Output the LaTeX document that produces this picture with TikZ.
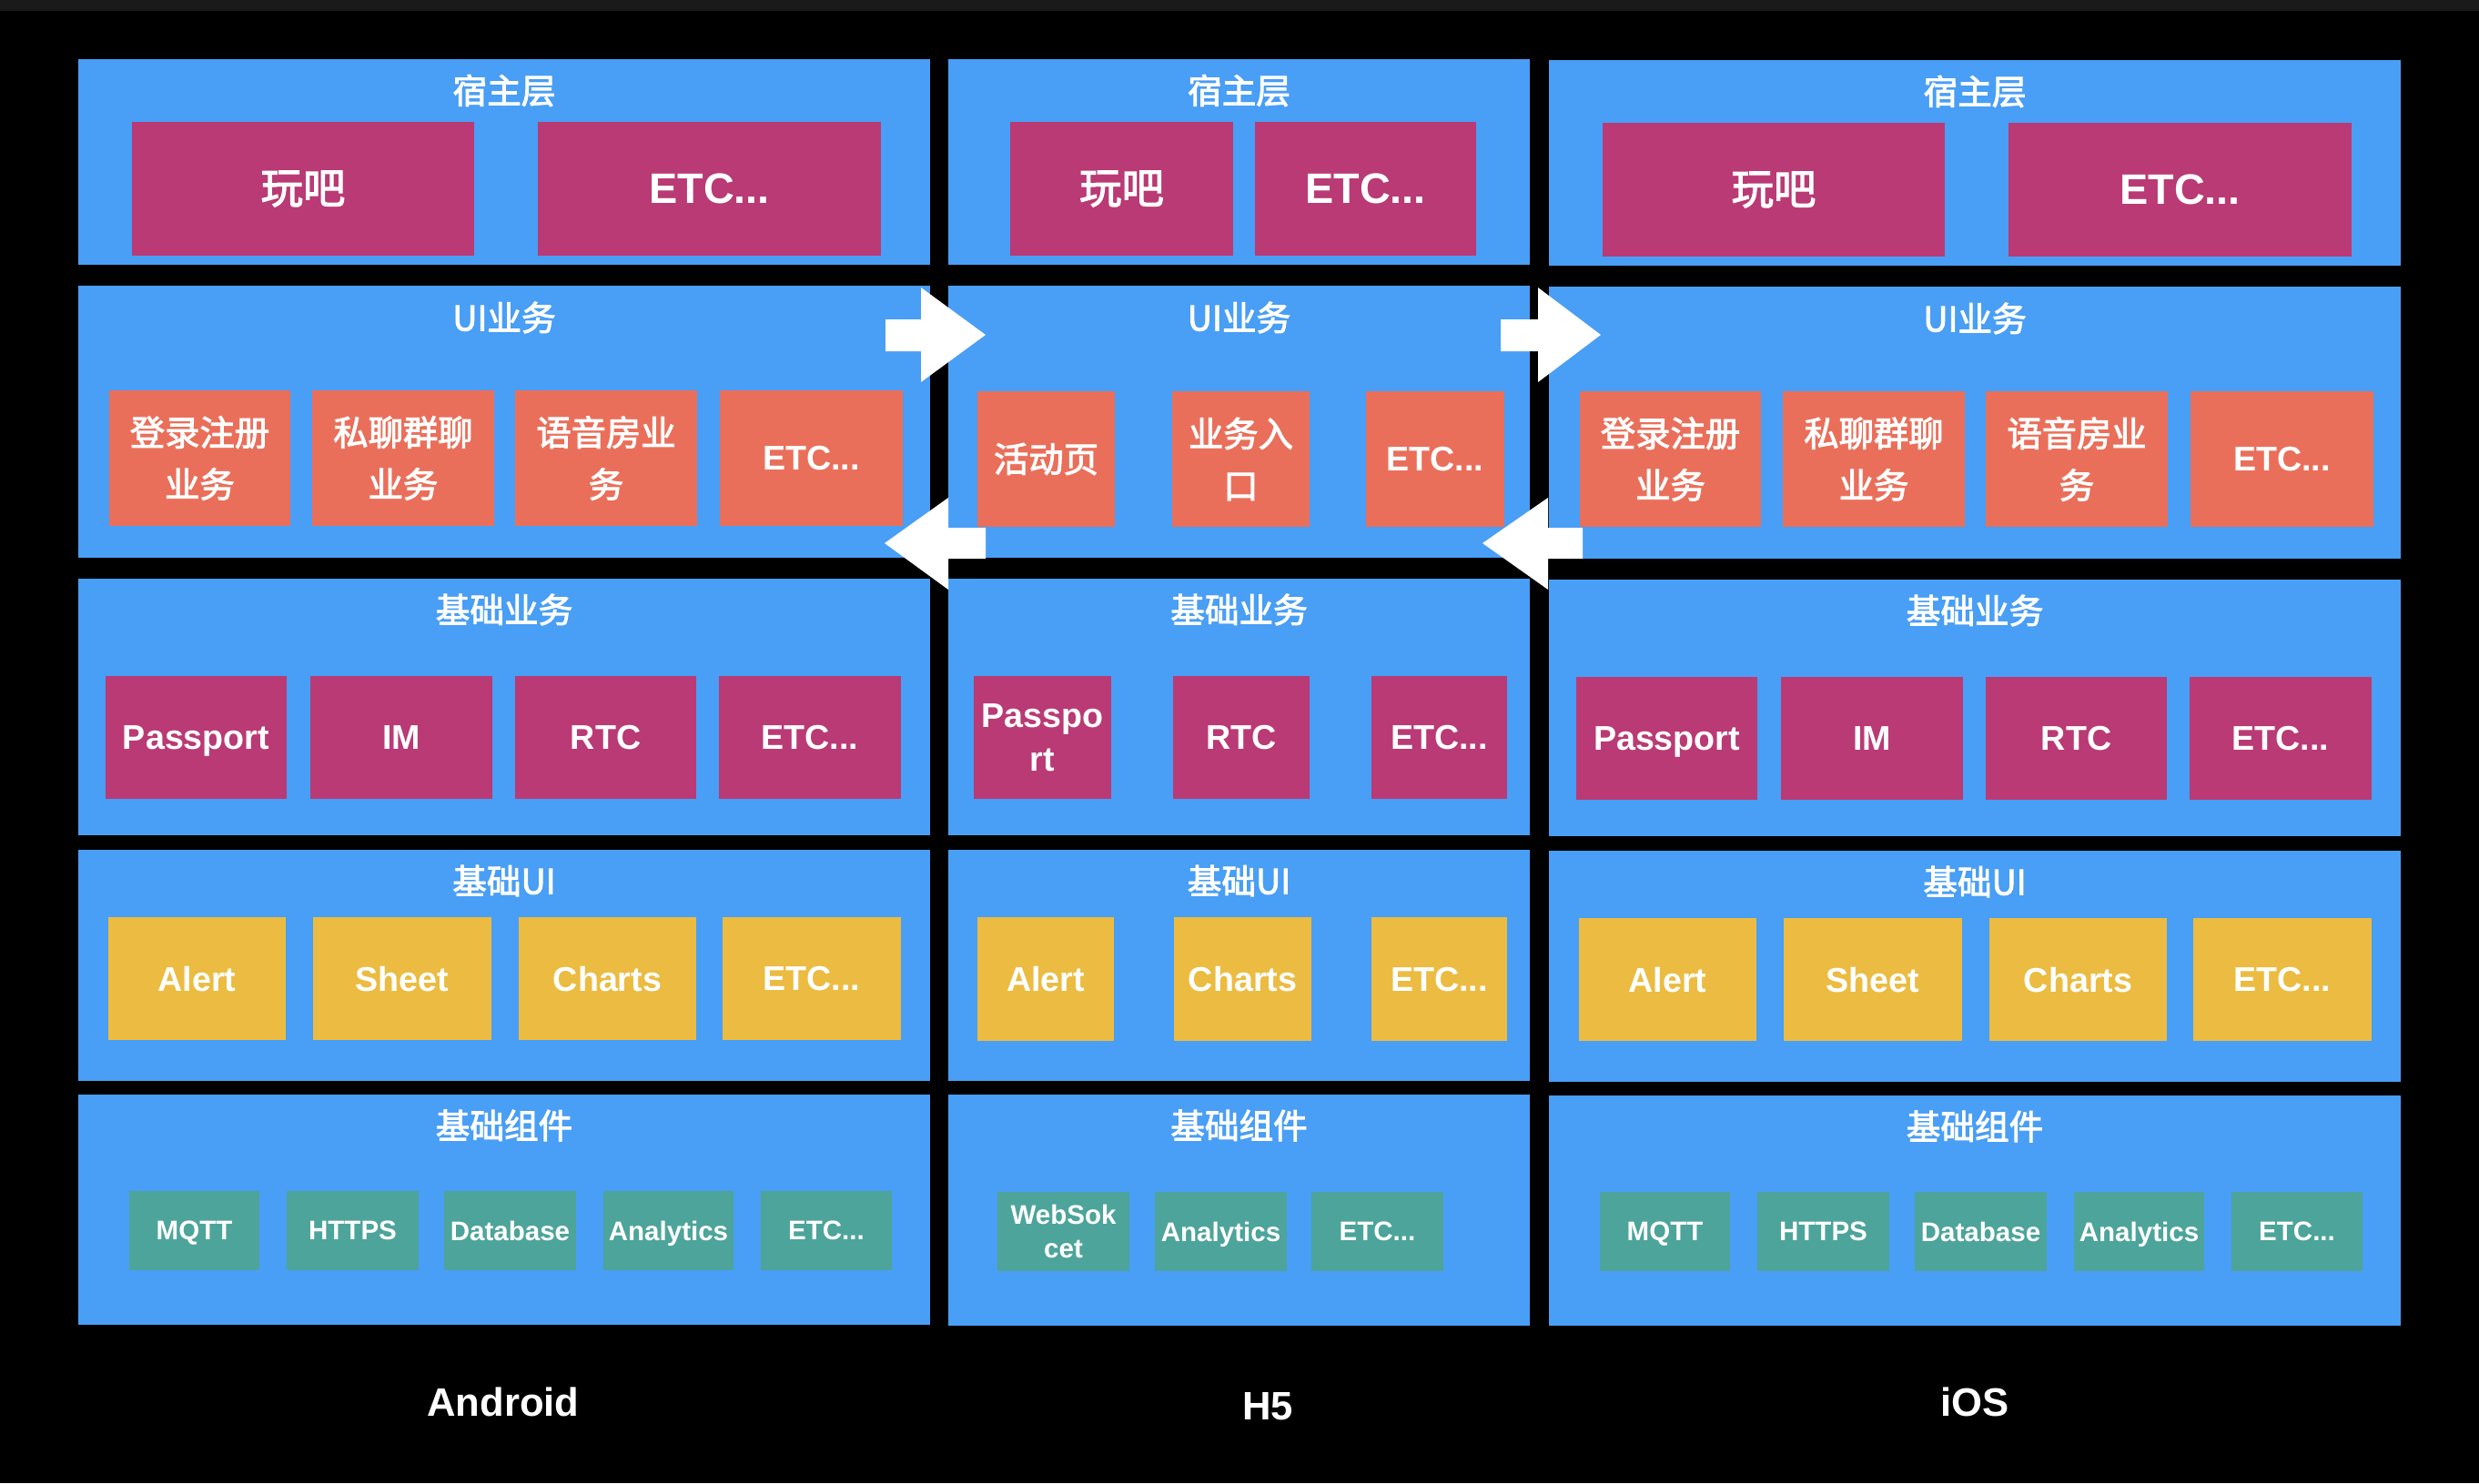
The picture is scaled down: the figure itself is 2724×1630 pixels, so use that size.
\documentclass[tikz,border=0pt]{standalone}
\usepackage{fontspec}
\setmainfont{Liberation Sans}
\newfontfamily\cjk[FakeBold=2.5]{Noto Sans CJK SC}
\definecolor{pblue}{RGB}{73,158,245}
\definecolor{mgC}{RGB}{185,58,117}
\definecolor{orC}{RGB}{234,111,90}
\definecolor{yeC}{RGB}{235,188,65}
\definecolor{teC}{RGB}{77,164,154}
\definecolor{topstrip}{RGB}{26,26,26}
\newcommand{\bx}[7]{%
  \pgfmathsetmacro{\bxcx}{(#3+#5)/2}\pgfmathsetmacro{\bxcy}{(#4+#6)/2}%
  \pgfmathsetmacro{\bxw}{(#5-#3)/100}\pgfmathsetmacro{\bxh}{(#6-#4)/100}%
  \node[#2, minimum width=\bxw cm, minimum height=\bxh cm] (#1) at (\bxcx,\bxcy) {#7};}
\tikzset{
  base/.style={inner sep=0pt, outer sep=0pt, text=white, align=center},
  panel/.style={base, fill=pblue},
  ttl/.style={base, font=\cjk\fontsize{10.7}{13}\selectfont},
  plat/.style={base, text depth=0pt, font=\bfseries\fontsize{12.4}{15}\selectfont},
  hostcjk/.style={base, fill=mgC, font=\cjk\fontsize{13.2}{16}\selectfont},
  hostlat/.style={base, text depth=0pt, fill=mgC, font=\bfseries\fontsize{13.3}{16}\selectfont},
  uicjk/.style={base, fill=orC, font=\cjk\fontsize{10.9}{16.2}\selectfont},
  uilat/.style={base, text depth=0pt, fill=orC, font=\bfseries\fontsize{10.7}{13.4}\selectfont},
  bizlat/.style={base, text depth=0pt, fill=mgC, font=\bfseries\fontsize{10.7}{13.4}\selectfont},
  bui/.style={base, text depth=0pt, fill=yeC, font=\bfseries\fontsize{10.7}{13.4}\selectfont},
  comp/.style={base, text depth=0pt, fill=teC, font=\bfseries\fontsize{8.4}{10.4}\selectfont},
  blockarrow/.style={fill=white}
}
\begin{document}
\begin{tikzpicture}[x=0.01cm, y=-0.01cm]
\useasboundingbox (0,0) rectangle (2724,1630);
\fill[black] (0,0) rectangle (2724,1630);
\fill[topstrip] (0,0) rectangle (2724,12);

% ---------------- Android ----------------
\bx{aP1}{panel}{86}{65}{1022}{291}{}
\bx{aP2}{panel}{86}{314}{1022}{613}{}
\bx{aP3}{panel}{86}{636}{1022}{918}{}
\bx{aP4}{panel}{86}{934}{1022}{1188}{}
\bx{aP5}{panel}{86}{1203}{1022}{1456}{}
\node[ttl] (aT1) at (554,99.5) {宿主层};
\node[ttl] (aT2) at (554,349) {UI业务};
\node[ttl] (aT3) at (554,670) {基础业务};
\node[ttl] (aT4) at (554,968) {基础UI};
\node[ttl] (aT5) at (554,1237) {基础组件};
\bx{a11}{hostcjk}{145}{134}{521}{281}{玩吧}
\bx{a12}{hostlat}{591}{134}{968}{281}{ETC...}
\bx{a21}{uicjk}{120}{429}{319}{578}{登录注册\\业务}
\bx{a22}{uicjk}{343}{429}{543}{578}{私聊群聊\\业务}
\bx{a23}{uicjk}{566}{429}{766}{578}{语音房业\\务}
\bx{a24}{uilat}{791}{429}{992}{578}{ETC...}
\bx{a31}{bizlat}{116}{743}{315}{878}{Passport}
\bx{a32}{bizlat}{341}{743}{541}{878}{IM}
\bx{a33}{bizlat}{566}{743}{765}{878}{RTC}
\bx{a34}{bizlat}{790}{743}{990}{878}{ETC...}
\bx{a41}{bui}{119}{1008}{314}{1143}{Alert}
\bx{a42}{bui}{344}{1008}{540}{1143}{Sheet}
\bx{a43}{bui}{570}{1008}{765}{1143}{Charts}
\bx{a44}{bui}{794}{1008}{990}{1143}{ETC...}
\bx{a51}{comp}{142}{1309}{285}{1396}{MQTT}
\bx{a52}{comp}{315}{1309}{460}{1396}{HTTPS}
\bx{a53}{comp}{488}{1309}{633}{1396}{Database}
\bx{a54}{comp}{663}{1309}{806}{1396}{Analytics}
\bx{a55}{comp}{836}{1309}{980}{1396}{ETC...}
\node[plat] (aL) at (553,1541) {Android};

% ---------------- H5 ----------------
\bx{hP1}{panel}{1042}{65}{1681}{291}{}
\bx{hP2}{panel}{1042}{314}{1681}{613}{}
\bx{hP3}{panel}{1042}{636}{1681}{918}{}
\bx{hP4}{panel}{1042}{934}{1681}{1188}{}
\bx{hP5}{panel}{1042}{1203}{1681}{1457}{}
\node[ttl] (hT1) at (1361.5,99.5) {宿主层};
\node[ttl] (hT2) at (1361.5,349) {UI业务};
\node[ttl] (hT3) at (1361.5,670) {基础业务};
\node[ttl] (hT4) at (1361.5,968) {基础UI};
\node[ttl] (hT5) at (1361.5,1237) {基础组件};
\bx{h11}{hostcjk}{1110}{134}{1355}{281}{玩吧}
\bx{h12}{hostlat}{1379}{134}{1622}{281}{ETC...}
\bx{h21}{uicjk}{1074}{430}{1225}{579}{活动页}
\bx{h22}{uicjk}{1288}{430}{1439}{579}{业务入\\口}
\bx{h23}{uilat}{1501}{430}{1653}{579}{ETC...}
\bx{h31}{bizlat}{1070}{743}{1221}{878}{Passpo\\rt}
\bx{h32}{bizlat}{1289}{743}{1439}{878}{RTC}
\bx{h33}{bizlat}{1507}{743}{1656}{878}{ETC...}
\bx{h41}{bui}{1074}{1008}{1224}{1144}{Alert}
\bx{h42}{bui}{1290}{1008}{1441}{1144}{Charts}
\bx{h43}{bui}{1507}{1008}{1656}{1144}{ETC...}
\bx{h51}{comp}{1096}{1310}{1241}{1397}{WebSok\\cet}
\bx{h52}{comp}{1269}{1310}{1414}{1397}{Analytics}
\bx{h53}{comp}{1441}{1310}{1586}{1397}{ETC...}
\node[plat] (hL) at (1393,1545) {H5};

% ---------------- iOS ----------------
\bx{iP1}{panel}{1702}{66}{2638}{292}{}
\bx{iP2}{panel}{1702}{315}{2638}{614}{}
\bx{iP3}{panel}{1702}{637}{2638}{919}{}
\bx{iP4}{panel}{1702}{935}{2638}{1189}{}
\bx{iP5}{panel}{1702}{1204}{2638}{1457}{}
\node[ttl] (iT1) at (2170,100.5) {宿主层};
\node[ttl] (iT2) at (2170,350) {UI业务};
\node[ttl] (iT3) at (2170,671) {基础业务};
\node[ttl] (iT4) at (2170,969) {基础UI};
\node[ttl] (iT5) at (2170,1238) {基础组件};
\bx{i11}{hostcjk}{1761}{135}{2137}{282}{玩吧}
\bx{i12}{hostlat}{2207}{135}{2584}{282}{ETC...}
\bx{i21}{uicjk}{1736}{430}{1935}{579}{登录注册\\业务}
\bx{i22}{uicjk}{1959}{430}{2159}{579}{私聊群聊\\业务}
\bx{i23}{uicjk}{2182}{430}{2382}{579}{语音房业\\务}
\bx{i24}{uilat}{2407}{430}{2608}{579}{ETC...}
\bx{i31}{bizlat}{1732}{744}{1931}{879}{Passport}
\bx{i32}{bizlat}{1957}{744}{2157}{879}{IM}
\bx{i33}{bizlat}{2182}{744}{2381}{879}{RTC}
\bx{i34}{bizlat}{2406}{744}{2606}{879}{ETC...}
\bx{i41}{bui}{1735}{1009}{1930}{1144}{Alert}
\bx{i42}{bui}{1960}{1009}{2156}{1144}{Sheet}
\bx{i43}{bui}{2186}{1009}{2381}{1144}{Charts}
\bx{i44}{bui}{2410}{1009}{2606}{1144}{ETC...}
\bx{i51}{comp}{1758}{1310}{1901}{1397}{MQTT}
\bx{i52}{comp}{1931}{1310}{2076}{1397}{HTTPS}
\bx{i53}{comp}{2104}{1310}{2249}{1397}{Database}
\bx{i54}{comp}{2279}{1310}{2422}{1397}{Analytics}
\bx{i55}{comp}{2452}{1310}{2596}{1397}{ETC...}
\node[plat] (iL) at (2170,1541) {iOS};

% ---------------- block arrows ----------------
\fill[blockarrow] (973,351) -- (1012,351) -- (1012,316) -- (1083,368) -- (1012,420) -- (1012,386) -- (973,386) -- cycle;
\fill[blockarrow] (1649,351) -- (1690,351) -- (1690,316) -- (1759,368) -- (1690,420) -- (1690,386) -- (1649,386) -- cycle;
\fill[blockarrow] (1083,580) -- (1042,580) -- (1042,547) -- (972,597) -- (1042,648) -- (1042,614) -- (1083,614) -- cycle;
\fill[blockarrow] (1739,580) -- (1701,580) -- (1701,547) -- (1629,597) -- (1701,648) -- (1701,614) -- (1739,614) -- cycle;
\end{tikzpicture}
\end{document}
